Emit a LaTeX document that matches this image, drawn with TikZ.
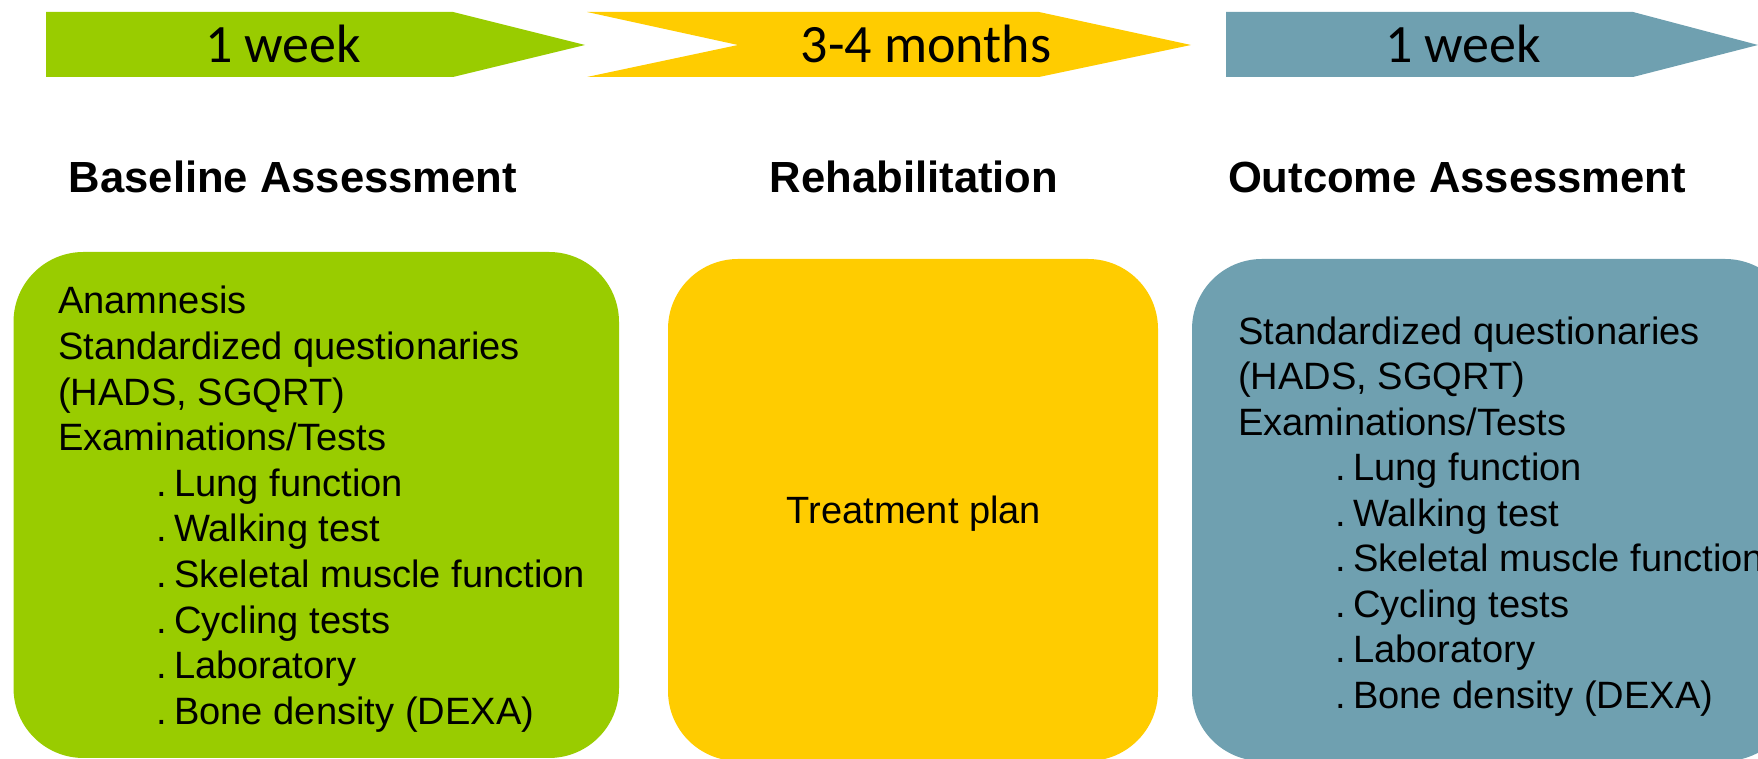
\documentclass[tikz,border=0pt]{standalone}
\usepackage{fontspec}
\setmainfont{Liberation Sans}
\newfontfamily\calib{Carlito}
\definecolor{pgreen}{HTML}{99CC00}
\definecolor{pyellow}{HTML}{FFCC00}
\definecolor{pblue}{HTML}{6FA0B0}
\tikzset{
  phase/.style={font=\calib\fontsize{54}{60}\selectfont, anchor=base, inner sep=0pt},
  heading/.style={font=\bfseries\fontsize{43.6}{50}\selectfont, anchor=base, inner sep=0pt},
  box/.style={rounded corners=70pt, draw=none},
  line/.style={font=\fontsize{38.1}{46}\selectfont, anchor=base west, inner sep=0pt},
}
\begin{document}
\begin{tikzpicture}[x=1pt,y=1pt]
\useasboundingbox (0,0) rectangle (1758,759);
\clip (0,0) rectangle (1758,759);
% timeline arrows
\fill[pgreen] (46,747) -- (453,747) -- (585,714) -- (453,682) -- (46,682) -- cycle;
\fill[pyellow] (587,747) -- (1039,747) -- (1191,714) -- (1039,682) -- (587,682) -- (738,714) -- cycle;
\fill[pblue] (1226,747) -- (1633,747) -- (1758,714) -- (1633,682) -- (1226,682) -- cycle;
\node[phase] (p1) at (283,696) {1 week};
\node[phase] (p2) at (926,696) {3-4 months};
\node[phase] (p3) at (1463,696) {1 week};
% headings
\node[heading] (h1) at (293,566) {Baseline Assessment};
\node[heading] (h2) at (914,566) {Rehabilitation};
\node[heading] (h3) at (1457,566) {Outcome Assessment};
% boxes
\fill[pgreen, box] (13.5,1) rectangle (619,507);
\fill[pyellow, box] (668,-2) rectangle (1158,500);
\fill[pblue, box] (1192,-2) rectangle (1795,500);
% green box text
\node[line] (g0) at (58,445) {Anamnesis};
\node[line] (g1) at (58,399.4) {Standardized questionaries};
\node[line] (g2) at (58,353.8) {(HADS, SGQRT)};
\node[line] (g3) at (58,308.2) {Examinations/Tests};
\node[line] (g4) at (156,262.6) {\makebox[18pt][l]{.}Lung function};
\node[line] (g5) at (156,217) {\makebox[18pt][l]{.}Walking test};
\node[line] (g6) at (156,171.4) {\makebox[18pt][l]{.}Skeletal muscle function};
\node[line] (g7) at (156,125.8) {\makebox[18pt][l]{.}Cycling tests};
\node[line] (g8) at (156,80.2) {\makebox[18pt][l]{.}Laboratory};
\node[line] (g9) at (156,34.6) {\makebox[18pt][l]{.}Bone density (DEXA)};
% yellow box text
\node[font=\fontsize{38}{46}\selectfont, inner sep=0pt] (t) at (914,245.5) {Treatment plan};
% blue box text
\node[line] (b1) at (1238,414.5) {Standardized questionaries};
\node[line] (b2) at (1238,369) {(HADS, SGQRT)};
\node[line] (b3) at (1238,323.5) {Examinations/Tests};
\node[line] (b4) at (1335,278) {\makebox[18pt][l]{.}Lung function};
\node[line] (b5) at (1335,232.5) {\makebox[18pt][l]{.}Walking test};
\node[line] (b6) at (1335,187) {\makebox[18pt][l]{.}Skeletal muscle function};
\node[line] (b7) at (1335,141.5) {\makebox[18pt][l]{.}Cycling tests};
\node[line] (b8) at (1335,96) {\makebox[18pt][l]{.}Laboratory};
\node[line] (b9) at (1335,50.5) {\makebox[18pt][l]{.}Bone density (DEXA)};
\end{tikzpicture}
\end{document}
